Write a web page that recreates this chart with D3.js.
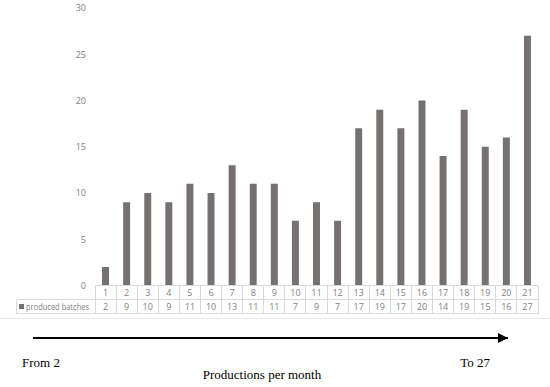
<!DOCTYPE html>
<html>
<head>
<meta charset="utf-8">
<script src="https://cdn.jsdelivr.net/npm/d3@7"></script>
<style>
  body { margin: 0; background: #fff; }
  svg { display: block; }
</style>
</head>
<body>
<svg width="550" height="387"></svg>
<script>
// data
const months = ["1","2","3","4","5","6","7","8","9","10","11","12","13","14","15","16","17","18","19","20","21"];
const batches = [2, 9, 10, 9, 11, 10, 13, 11, 11, 7, 9, 7, 17, 19, 17, 20, 14, 19, 15, 16, 27];
const yTicks = [0, 5, 10, 15, 20, 25, 30];
const seriesName = "produced batches";

let svg = d3.select("svg");
let g = svg.append("g");

const barColor = "#767171";
const lineColor = "#d9d9d9";
const textColor = "#7f7f7f";
const font = "'Open Sans', sans-serif";

let x = d3.scaleBand().domain(months).range([95, 538]).padding(0);
let y = d3.scaleLinear().domain([0, 30]).range([285.5, 8]);

// y axis, labels only
let yAxis = g.append("g")
  .attr("transform", "translate(91,0)")
  .call(d3.axisLeft(y).tickValues(yTicks).tickSize(0).tickPadding(5));
yAxis.select(".domain").remove();
yAxis.selectAll("text")
  .style("font-family", font)
  .style("font-size", "9px")
  .attr("fill", textColor);

// bars
let bw = x.bandwidth() * 0.33;
g.append("g").selectAll("rect")
  .data(batches)
  .enter().append("rect")
  .attr("x", (d, i) => x(months[i]) + (x.bandwidth() - bw) / 2)
  .attr("y", d => y(d))
  .attr("width", bw)
  .attr("height", d => y(0) - y(d))
  .attr("fill", barColor);

// data table
const rowTop = 285.5, rowH = 14, legendLeft = 16.5;
let t = g.append("g")
  .attr("stroke", lineColor)
  .attr("stroke-width", 1)
  .attr("shape-rendering", "crispEdges");
t.append("line").attr("x1", x.range()[0]).attr("x2", x.range()[1]).attr("y1", rowTop).attr("y2", rowTop);
t.append("line").attr("x1", legendLeft).attr("x2", x.range()[1]).attr("y1", rowTop + rowH).attr("y2", rowTop + rowH);
t.append("line").attr("x1", legendLeft).attr("x2", x.range()[1]).attr("y1", rowTop + 2 * rowH).attr("y2", rowTop + 2 * rowH);
t.append("line").attr("x1", legendLeft).attr("x2", legendLeft).attr("y1", rowTop + rowH).attr("y2", rowTop + 2 * rowH);
t.selectAll(".col")
  .data(months.concat(["end"]))
  .enter().append("line")
  .attr("x1", (d, i) => i < months.length ? x(d) : x.range()[1])
  .attr("x2", (d, i) => i < months.length ? x(d) : x.range()[1])
  .attr("y1", rowTop)
  .attr("y2", rowTop + 2 * rowH);

g.append("g").selectAll("text")
  .data(months)
  .enter().append("text")
  .attr("x", d => x(d) + x.bandwidth() / 2)
  .attr("y", rowTop + rowH / 2 + 3.5)
  .attr("text-anchor", "middle")
  .style("font-family", font).style("font-size", "9px")
  .attr("fill", textColor)
  .text(d => d);

g.append("g").selectAll("text")
  .data(batches)
  .enter().append("text")
  .attr("x", (d, i) => x(months[i]) + x.bandwidth() / 2)
  .attr("y", rowTop + rowH * 1.5 + 3.5)
  .attr("text-anchor", "middle")
  .style("font-family", font).style("font-size", "9px")
  .attr("fill", textColor)
  .text(d => d);

// legend key in the table
g.append("rect")
  .attr("x", 19).attr("y", rowTop + rowH * 1.5 - 2.5)
  .attr("width", 5).attr("height", 5)
  .attr("fill", barColor);
g.append("text")
  .attr("x", 26).attr("y", rowTop + rowH * 1.5 + 3.5)
  .attr("textLength", 63).attr("lengthAdjust", "spacingAndGlyphs")
  .style("font-family", font).style("font-size", "9px")
  .attr("fill", textColor)
  .text(seriesName);

// chart frame bottom
g.append("line")
  .attr("x1", 0).attr("x2", 550).attr("y1", 318.5).attr("y2", 318.5)
  .attr("stroke", "#e6e6e6");

// arrow below
svg.append("defs").append("marker")
  .attr("id", "head")
  .attr("viewBox", "0 0 10 10")
  .attr("refX", 10).attr("refY", 5)
  .attr("markerWidth", 13).attr("markerHeight", 10)
  .attr("markerUnits", "userSpaceOnUse")
  .attr("orient", "auto")
  .append("path").attr("d", "M0,0L10,5L0,10Z").attr("fill", "#000");
g.append("line")
  .attr("x1", 33).attr("x2", 508).attr("y1", 338).attr("y2", 338)
  .attr("stroke", "#000").attr("stroke-width", 2)
  .attr("marker-end", "url(#head)");

const serif = "'Liberation Serif', 'Times New Roman', serif";
g.append("text").attr("x", 22).attr("y", 367)
  .style("font-family", serif).style("font-size", "13px").text("From 2");
g.append("text").attr("x", 490).attr("y", 367).attr("text-anchor", "end")
  .style("font-family", serif).style("font-size", "13px").text("To 27");
g.append("text").attr("x", 262).attr("y", 379).attr("text-anchor", "middle")
  .style("font-family", serif).style("font-size", "13px").text("Productions per month");
</script>
</body>
</html>
